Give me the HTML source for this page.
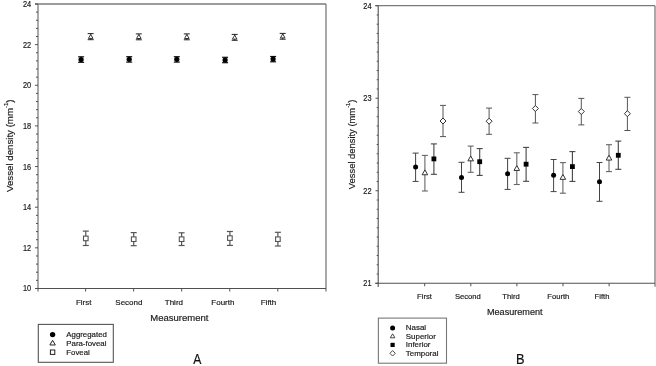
<!DOCTYPE html>
<html><head><meta charset="utf-8"><style>
html,body{margin:0;padding:0;background:#fff;}
body{width:656px;height:366px;overflow:hidden;position:relative;font-family:"Liberation Sans", sans-serif;}
svg{position:absolute;left:0;top:0;filter:grayscale(1) blur(0.3px);}
svg text{font-family:"Liberation Sans", sans-serif;}
</style></head><body>
<svg width="656" height="366" viewBox="0 0 656 366">
<rect width="656" height="366" fill="#fff"/>
<line x1="35.00" y1="4.00" x2="326.00" y2="4.00" stroke="#7a7a7a" stroke-width="1.3"/>
<line x1="326.00" y1="4.00" x2="326.00" y2="291.48" stroke="#7a7a7a" stroke-width="1.3"/>
<line x1="38.00" y1="4.00" x2="38.00" y2="291.48" stroke="#7a7a7a" stroke-width="1.3"/>
<line x1="35.00" y1="288.48" x2="326.00" y2="288.48" stroke="#505050" stroke-width="1.1"/>
<line x1="35.00" y1="4.00" x2="38.00" y2="4.00" stroke="#505050" stroke-width="1"/>
<line x1="36.00" y1="12.13" x2="38.00" y2="12.13" stroke="#505050" stroke-width="1"/>
<line x1="36.00" y1="20.26" x2="38.00" y2="20.26" stroke="#505050" stroke-width="1"/>
<line x1="36.00" y1="28.38" x2="38.00" y2="28.38" stroke="#505050" stroke-width="1"/>
<line x1="36.00" y1="36.51" x2="38.00" y2="36.51" stroke="#505050" stroke-width="1"/>
<line x1="35.00" y1="44.64" x2="38.00" y2="44.64" stroke="#505050" stroke-width="1"/>
<line x1="36.00" y1="52.77" x2="38.00" y2="52.77" stroke="#505050" stroke-width="1"/>
<line x1="36.00" y1="60.90" x2="38.00" y2="60.90" stroke="#505050" stroke-width="1"/>
<line x1="36.00" y1="69.02" x2="38.00" y2="69.02" stroke="#505050" stroke-width="1"/>
<line x1="36.00" y1="77.15" x2="38.00" y2="77.15" stroke="#505050" stroke-width="1"/>
<line x1="35.00" y1="85.28" x2="38.00" y2="85.28" stroke="#505050" stroke-width="1"/>
<line x1="36.00" y1="93.41" x2="38.00" y2="93.41" stroke="#505050" stroke-width="1"/>
<line x1="36.00" y1="101.54" x2="38.00" y2="101.54" stroke="#505050" stroke-width="1"/>
<line x1="36.00" y1="109.66" x2="38.00" y2="109.66" stroke="#505050" stroke-width="1"/>
<line x1="36.00" y1="117.79" x2="38.00" y2="117.79" stroke="#505050" stroke-width="1"/>
<line x1="35.00" y1="125.92" x2="38.00" y2="125.92" stroke="#505050" stroke-width="1"/>
<line x1="36.00" y1="134.05" x2="38.00" y2="134.05" stroke="#505050" stroke-width="1"/>
<line x1="36.00" y1="142.18" x2="38.00" y2="142.18" stroke="#505050" stroke-width="1"/>
<line x1="36.00" y1="150.30" x2="38.00" y2="150.30" stroke="#505050" stroke-width="1"/>
<line x1="36.00" y1="158.43" x2="38.00" y2="158.43" stroke="#505050" stroke-width="1"/>
<line x1="35.00" y1="166.56" x2="38.00" y2="166.56" stroke="#505050" stroke-width="1"/>
<line x1="36.00" y1="174.69" x2="38.00" y2="174.69" stroke="#505050" stroke-width="1"/>
<line x1="36.00" y1="182.82" x2="38.00" y2="182.82" stroke="#505050" stroke-width="1"/>
<line x1="36.00" y1="190.94" x2="38.00" y2="190.94" stroke="#505050" stroke-width="1"/>
<line x1="36.00" y1="199.07" x2="38.00" y2="199.07" stroke="#505050" stroke-width="1"/>
<line x1="35.00" y1="207.20" x2="38.00" y2="207.20" stroke="#505050" stroke-width="1"/>
<line x1="36.00" y1="215.33" x2="38.00" y2="215.33" stroke="#505050" stroke-width="1"/>
<line x1="36.00" y1="223.46" x2="38.00" y2="223.46" stroke="#505050" stroke-width="1"/>
<line x1="36.00" y1="231.58" x2="38.00" y2="231.58" stroke="#505050" stroke-width="1"/>
<line x1="36.00" y1="239.71" x2="38.00" y2="239.71" stroke="#505050" stroke-width="1"/>
<line x1="35.00" y1="247.84" x2="38.00" y2="247.84" stroke="#505050" stroke-width="1"/>
<line x1="36.00" y1="255.97" x2="38.00" y2="255.97" stroke="#505050" stroke-width="1"/>
<line x1="36.00" y1="264.10" x2="38.00" y2="264.10" stroke="#505050" stroke-width="1"/>
<line x1="36.00" y1="272.22" x2="38.00" y2="272.22" stroke="#505050" stroke-width="1"/>
<line x1="36.00" y1="280.35" x2="38.00" y2="280.35" stroke="#505050" stroke-width="1"/>
<line x1="35.00" y1="288.48" x2="38.00" y2="288.48" stroke="#505050" stroke-width="1"/>
<text x="31.20" y="291.48" font-size="8.4" text-anchor="end" fill="#1a1a1a" stroke="#1a1a1a" stroke-width="0.18" transform="translate(31.2,0) scale(0.88,1) translate(-31.2,0)">10</text>
<text x="31.20" y="250.84" font-size="8.4" text-anchor="end" fill="#1a1a1a" stroke="#1a1a1a" stroke-width="0.18" transform="translate(31.2,0) scale(0.88,1) translate(-31.2,0)">12</text>
<text x="31.20" y="210.20" font-size="8.4" text-anchor="end" fill="#1a1a1a" stroke="#1a1a1a" stroke-width="0.18" transform="translate(31.2,0) scale(0.88,1) translate(-31.2,0)">14</text>
<text x="31.20" y="169.56" font-size="8.4" text-anchor="end" fill="#1a1a1a" stroke="#1a1a1a" stroke-width="0.18" transform="translate(31.2,0) scale(0.88,1) translate(-31.2,0)">16</text>
<text x="31.20" y="128.92" font-size="8.4" text-anchor="end" fill="#1a1a1a" stroke="#1a1a1a" stroke-width="0.18" transform="translate(31.2,0) scale(0.88,1) translate(-31.2,0)">18</text>
<text x="31.20" y="88.28" font-size="8.4" text-anchor="end" fill="#1a1a1a" stroke="#1a1a1a" stroke-width="0.18" transform="translate(31.2,0) scale(0.88,1) translate(-31.2,0)">20</text>
<text x="31.20" y="47.64" font-size="8.4" text-anchor="end" fill="#1a1a1a" stroke="#1a1a1a" stroke-width="0.18" transform="translate(31.2,0) scale(0.88,1) translate(-31.2,0)">22</text>
<text x="31.20" y="7.00" font-size="8.4" text-anchor="end" fill="#1a1a1a" stroke="#1a1a1a" stroke-width="0.18" transform="translate(31.2,0) scale(0.88,1) translate(-31.2,0)">24</text>
<line x1="85.60" y1="288.48" x2="85.60" y2="291.48" stroke="#505050" stroke-width="1"/>
<line x1="133.65" y1="288.48" x2="133.65" y2="291.48" stroke="#505050" stroke-width="1"/>
<line x1="181.70" y1="288.48" x2="181.70" y2="291.48" stroke="#505050" stroke-width="1"/>
<line x1="229.75" y1="288.48" x2="229.75" y2="291.48" stroke="#505050" stroke-width="1"/>
<line x1="277.80" y1="288.48" x2="277.80" y2="291.48" stroke="#505050" stroke-width="1"/>
<text x="83.70" y="305.20" font-size="8.0" text-anchor="middle" fill="#1a1a1a" stroke="#1a1a1a" stroke-width="0.18" >First</text>
<text x="128.90" y="305.20" font-size="8.0" text-anchor="middle" fill="#1a1a1a" stroke="#1a1a1a" stroke-width="0.18" >Second</text>
<text x="173.90" y="305.20" font-size="8.0" text-anchor="middle" fill="#1a1a1a" stroke="#1a1a1a" stroke-width="0.18" >Third</text>
<text x="222.90" y="305.20" font-size="8.0" text-anchor="middle" fill="#1a1a1a" stroke="#1a1a1a" stroke-width="0.18" >Fourth</text>
<text x="268.50" y="305.20" font-size="8.0" text-anchor="middle" fill="#1a1a1a" stroke="#1a1a1a" stroke-width="0.18" >Fifth</text>
<text x="179.40" y="321.00" font-size="9.5" text-anchor="middle" fill="#1a1a1a" stroke="#1a1a1a" stroke-width="0.18" >Measurement</text>
<text x="0.00" y="0.00" font-size="9.7" text-anchor="middle" fill="#1a1a1a" stroke="#1a1a1a" stroke-width="0.18" transform="translate(13.1,145.7) rotate(-90)">Vessel density (mm<tspan font-size="6.0" dy="-5.6">-1</tspan><tspan dy="5.6">)</tspan></text>
<line x1="81.10" y1="56.80" x2="81.10" y2="62.30" stroke="#111" stroke-width="1.2"/>
<line x1="78.10" y1="56.80" x2="84.10" y2="56.80" stroke="#111" stroke-width="1.2"/>
<line x1="78.10" y1="62.30" x2="84.10" y2="62.30" stroke="#111" stroke-width="1.2"/>
<circle cx="81.10" cy="59.50" r="2.6" fill="#000"/>
<line x1="129.20" y1="56.70" x2="129.20" y2="62.10" stroke="#111" stroke-width="1.2"/>
<line x1="126.20" y1="56.70" x2="132.20" y2="56.70" stroke="#111" stroke-width="1.2"/>
<line x1="126.20" y1="62.10" x2="132.20" y2="62.10" stroke="#111" stroke-width="1.2"/>
<circle cx="129.20" cy="59.30" r="2.6" fill="#000"/>
<line x1="176.80" y1="56.70" x2="176.80" y2="62.10" stroke="#111" stroke-width="1.2"/>
<line x1="173.80" y1="56.70" x2="179.80" y2="56.70" stroke="#111" stroke-width="1.2"/>
<line x1="173.80" y1="62.10" x2="179.80" y2="62.10" stroke="#111" stroke-width="1.2"/>
<circle cx="176.80" cy="59.30" r="2.6" fill="#000"/>
<line x1="225.10" y1="57.30" x2="225.10" y2="62.70" stroke="#111" stroke-width="1.2"/>
<line x1="222.10" y1="57.30" x2="228.10" y2="57.30" stroke="#111" stroke-width="1.2"/>
<line x1="222.10" y1="62.70" x2="228.10" y2="62.70" stroke="#111" stroke-width="1.2"/>
<circle cx="225.10" cy="60.00" r="2.6" fill="#000"/>
<line x1="273.10" y1="56.50" x2="273.10" y2="61.80" stroke="#111" stroke-width="1.2"/>
<line x1="270.10" y1="56.50" x2="276.10" y2="56.50" stroke="#111" stroke-width="1.2"/>
<line x1="270.10" y1="61.80" x2="276.10" y2="61.80" stroke="#111" stroke-width="1.2"/>
<circle cx="273.10" cy="59.00" r="2.6" fill="#000"/>
<line x1="90.70" y1="33.60" x2="90.70" y2="39.70" stroke="#222" stroke-width="1.0"/>
<line x1="87.70" y1="33.60" x2="93.70" y2="33.60" stroke="#222" stroke-width="1.0"/>
<line x1="87.70" y1="39.70" x2="93.70" y2="39.70" stroke="#222" stroke-width="1.0"/>
<polygon points="90.70,34.42 93.00,38.42 88.40,38.42" fill="#fff" stroke="#222" stroke-width="0.9"/>
<line x1="138.80" y1="33.90" x2="138.80" y2="39.80" stroke="#222" stroke-width="1.0"/>
<line x1="135.80" y1="33.90" x2="141.80" y2="33.90" stroke="#222" stroke-width="1.0"/>
<line x1="135.80" y1="39.80" x2="141.80" y2="39.80" stroke="#222" stroke-width="1.0"/>
<polygon points="138.80,34.52 141.10,38.52 136.50,38.52" fill="#fff" stroke="#222" stroke-width="0.9"/>
<line x1="186.80" y1="33.90" x2="186.80" y2="39.80" stroke="#222" stroke-width="1.0"/>
<line x1="183.80" y1="33.90" x2="189.80" y2="33.90" stroke="#222" stroke-width="1.0"/>
<line x1="183.80" y1="39.80" x2="189.80" y2="39.80" stroke="#222" stroke-width="1.0"/>
<polygon points="186.80,34.52 189.10,38.52 184.50,38.52" fill="#fff" stroke="#222" stroke-width="0.9"/>
<line x1="234.70" y1="34.40" x2="234.70" y2="40.30" stroke="#222" stroke-width="1.0"/>
<line x1="231.70" y1="34.40" x2="237.70" y2="34.40" stroke="#222" stroke-width="1.0"/>
<line x1="231.70" y1="40.30" x2="237.70" y2="40.30" stroke="#222" stroke-width="1.0"/>
<polygon points="234.70,35.12 237.00,39.12 232.40,39.12" fill="#fff" stroke="#222" stroke-width="0.9"/>
<line x1="282.70" y1="33.40" x2="282.70" y2="39.20" stroke="#222" stroke-width="1.0"/>
<line x1="279.70" y1="33.40" x2="285.70" y2="33.40" stroke="#222" stroke-width="1.0"/>
<line x1="279.70" y1="39.20" x2="285.70" y2="39.20" stroke="#222" stroke-width="1.0"/>
<polygon points="282.70,33.92 285.00,37.92 280.40,37.92" fill="#fff" stroke="#222" stroke-width="0.9"/>
<line x1="85.80" y1="231.10" x2="85.80" y2="245.50" stroke="#555" stroke-width="1.2"/>
<line x1="82.80" y1="231.10" x2="88.80" y2="231.10" stroke="#555" stroke-width="1.2"/>
<line x1="82.80" y1="245.50" x2="88.80" y2="245.50" stroke="#555" stroke-width="1.2"/>
<rect x="83.50" y="236.10" width="4.6" height="4.6" fill="#fff" stroke="#555" stroke-width="1.1"/>
<line x1="133.70" y1="232.60" x2="133.70" y2="245.70" stroke="#555" stroke-width="1.2"/>
<line x1="130.70" y1="232.60" x2="136.70" y2="232.60" stroke="#555" stroke-width="1.2"/>
<line x1="130.70" y1="245.70" x2="136.70" y2="245.70" stroke="#555" stroke-width="1.2"/>
<rect x="131.40" y="236.90" width="4.6" height="4.6" fill="#fff" stroke="#555" stroke-width="1.1"/>
<line x1="181.60" y1="232.80" x2="181.60" y2="245.50" stroke="#555" stroke-width="1.2"/>
<line x1="178.60" y1="232.80" x2="184.60" y2="232.80" stroke="#555" stroke-width="1.2"/>
<line x1="178.60" y1="245.50" x2="184.60" y2="245.50" stroke="#555" stroke-width="1.2"/>
<rect x="179.30" y="236.90" width="4.6" height="4.6" fill="#fff" stroke="#555" stroke-width="1.1"/>
<line x1="229.90" y1="231.50" x2="229.90" y2="245.40" stroke="#555" stroke-width="1.2"/>
<line x1="226.90" y1="231.50" x2="232.90" y2="231.50" stroke="#555" stroke-width="1.2"/>
<line x1="226.90" y1="245.40" x2="232.90" y2="245.40" stroke="#555" stroke-width="1.2"/>
<rect x="227.60" y="235.80" width="4.6" height="4.6" fill="#fff" stroke="#555" stroke-width="1.1"/>
<line x1="277.90" y1="232.30" x2="277.90" y2="246.00" stroke="#555" stroke-width="1.2"/>
<line x1="274.90" y1="232.30" x2="280.90" y2="232.30" stroke="#555" stroke-width="1.2"/>
<line x1="274.90" y1="246.00" x2="280.90" y2="246.00" stroke="#555" stroke-width="1.2"/>
<rect x="275.60" y="236.90" width="4.6" height="4.6" fill="#fff" stroke="#555" stroke-width="1.1"/>
<rect x="38.3" y="324.4" width="75.0" height="37.9" fill="none" stroke="#555" stroke-width="1.1"/>
<circle cx="52.60" cy="334.60" r="2.7" fill="#000"/>
<polygon points="52.60,340.29 55.30,344.99 49.90,344.99" fill="#fff" stroke="#222" stroke-width="1.0"/>
<rect x="50.40" y="350.00" width="4.4" height="4.4" fill="#fff" stroke="#222" stroke-width="1.0"/>
<text x="66.30" y="337.10" font-size="7.85" text-anchor="start" fill="#1a1a1a" stroke="#1a1a1a" stroke-width="0.18" >Aggregated</text>
<text x="66.30" y="345.80" font-size="7.85" text-anchor="start" fill="#1a1a1a" stroke="#1a1a1a" stroke-width="0.18" >Para-foveal</text>
<text x="66.30" y="354.50" font-size="7.85" text-anchor="start" fill="#1a1a1a" stroke="#1a1a1a" stroke-width="0.18" >Foveal</text>
<text x="197.20" y="364.00" font-size="13.8" text-anchor="middle" fill="#111" stroke="#111" stroke-width="0.18" transform="translate(197.1,0) scale(0.88,1) translate(-197.1,0)">A</text>
<line x1="375.20" y1="5.70" x2="655.00" y2="5.70" stroke="#7a7a7a" stroke-width="1.3"/>
<line x1="655.00" y1="5.70" x2="655.00" y2="286.69" stroke="#7a7a7a" stroke-width="1.3"/>
<line x1="378.20" y1="5.70" x2="378.20" y2="286.89" stroke="#505050" stroke-width="1.1"/>
<line x1="375.20" y1="283.29" x2="655.00" y2="283.29" stroke="#505050" stroke-width="1.1"/>
<line x1="375.50" y1="5.70" x2="378.20" y2="5.70" stroke="#505050" stroke-width="1"/>
<line x1="376.70" y1="14.95" x2="378.20" y2="14.95" stroke="#505050" stroke-width="1"/>
<line x1="376.70" y1="24.21" x2="378.20" y2="24.21" stroke="#505050" stroke-width="1"/>
<line x1="376.70" y1="33.46" x2="378.20" y2="33.46" stroke="#505050" stroke-width="1"/>
<line x1="376.70" y1="42.71" x2="378.20" y2="42.71" stroke="#505050" stroke-width="1"/>
<line x1="376.70" y1="51.97" x2="378.20" y2="51.97" stroke="#505050" stroke-width="1"/>
<line x1="376.70" y1="61.22" x2="378.20" y2="61.22" stroke="#505050" stroke-width="1"/>
<line x1="376.70" y1="70.47" x2="378.20" y2="70.47" stroke="#505050" stroke-width="1"/>
<line x1="376.70" y1="79.72" x2="378.20" y2="79.72" stroke="#505050" stroke-width="1"/>
<line x1="376.70" y1="88.98" x2="378.20" y2="88.98" stroke="#505050" stroke-width="1"/>
<line x1="375.50" y1="98.23" x2="378.20" y2="98.23" stroke="#505050" stroke-width="1"/>
<line x1="376.70" y1="107.48" x2="378.20" y2="107.48" stroke="#505050" stroke-width="1"/>
<line x1="376.70" y1="116.74" x2="378.20" y2="116.74" stroke="#505050" stroke-width="1"/>
<line x1="376.70" y1="125.99" x2="378.20" y2="125.99" stroke="#505050" stroke-width="1"/>
<line x1="376.70" y1="135.24" x2="378.20" y2="135.24" stroke="#505050" stroke-width="1"/>
<line x1="376.70" y1="144.50" x2="378.20" y2="144.50" stroke="#505050" stroke-width="1"/>
<line x1="376.70" y1="153.75" x2="378.20" y2="153.75" stroke="#505050" stroke-width="1"/>
<line x1="376.70" y1="163.00" x2="378.20" y2="163.00" stroke="#505050" stroke-width="1"/>
<line x1="376.70" y1="172.25" x2="378.20" y2="172.25" stroke="#505050" stroke-width="1"/>
<line x1="376.70" y1="181.51" x2="378.20" y2="181.51" stroke="#505050" stroke-width="1"/>
<line x1="375.50" y1="190.76" x2="378.20" y2="190.76" stroke="#505050" stroke-width="1"/>
<line x1="376.70" y1="200.01" x2="378.20" y2="200.01" stroke="#505050" stroke-width="1"/>
<line x1="376.70" y1="209.27" x2="378.20" y2="209.27" stroke="#505050" stroke-width="1"/>
<line x1="376.70" y1="218.52" x2="378.20" y2="218.52" stroke="#505050" stroke-width="1"/>
<line x1="376.70" y1="227.77" x2="378.20" y2="227.77" stroke="#505050" stroke-width="1"/>
<line x1="376.70" y1="237.02" x2="378.20" y2="237.02" stroke="#505050" stroke-width="1"/>
<line x1="376.70" y1="246.28" x2="378.20" y2="246.28" stroke="#505050" stroke-width="1"/>
<line x1="376.70" y1="255.53" x2="378.20" y2="255.53" stroke="#505050" stroke-width="1"/>
<line x1="376.70" y1="264.78" x2="378.20" y2="264.78" stroke="#505050" stroke-width="1"/>
<line x1="376.70" y1="274.04" x2="378.20" y2="274.04" stroke="#505050" stroke-width="1"/>
<line x1="375.50" y1="283.29" x2="378.20" y2="283.29" stroke="#505050" stroke-width="1"/>
<text x="371.60" y="286.29" font-size="8.4" text-anchor="end" fill="#1a1a1a" stroke="#1a1a1a" stroke-width="0.18" transform="translate(371.6,0) scale(0.88,1) translate(-371.6,0)">21</text>
<text x="371.60" y="193.76" font-size="8.4" text-anchor="end" fill="#1a1a1a" stroke="#1a1a1a" stroke-width="0.18" transform="translate(371.6,0) scale(0.88,1) translate(-371.6,0)">22</text>
<text x="371.60" y="101.23" font-size="8.4" text-anchor="end" fill="#1a1a1a" stroke="#1a1a1a" stroke-width="0.18" transform="translate(371.6,0) scale(0.88,1) translate(-371.6,0)">23</text>
<text x="371.60" y="8.70" font-size="8.4" text-anchor="end" fill="#1a1a1a" stroke="#1a1a1a" stroke-width="0.18" transform="translate(371.6,0) scale(0.88,1) translate(-371.6,0)">24</text>
<line x1="424.70" y1="283.29" x2="424.70" y2="286.29" stroke="#505050" stroke-width="1"/>
<line x1="470.80" y1="283.29" x2="470.80" y2="286.29" stroke="#505050" stroke-width="1"/>
<line x1="516.90" y1="283.29" x2="516.90" y2="286.29" stroke="#505050" stroke-width="1"/>
<line x1="563.00" y1="283.29" x2="563.00" y2="286.29" stroke="#505050" stroke-width="1"/>
<line x1="609.10" y1="283.29" x2="609.10" y2="286.29" stroke="#505050" stroke-width="1"/>
<text x="424.50" y="299.40" font-size="7.6" text-anchor="middle" fill="#1a1a1a" stroke="#1a1a1a" stroke-width="0.18" >First</text>
<text x="467.80" y="299.40" font-size="7.6" text-anchor="middle" fill="#1a1a1a" stroke="#1a1a1a" stroke-width="0.18" >Second</text>
<text x="511.00" y="299.40" font-size="7.6" text-anchor="middle" fill="#1a1a1a" stroke="#1a1a1a" stroke-width="0.18" >Third</text>
<text x="558.30" y="299.40" font-size="7.6" text-anchor="middle" fill="#1a1a1a" stroke="#1a1a1a" stroke-width="0.18" >Fourth</text>
<text x="602.00" y="299.40" font-size="7.6" text-anchor="middle" fill="#1a1a1a" stroke="#1a1a1a" stroke-width="0.18" >Fifth</text>
<text x="514.80" y="314.80" font-size="9.1" text-anchor="middle" fill="#1a1a1a" stroke="#1a1a1a" stroke-width="0.18" >Measurement</text>
<text x="0.00" y="0.00" font-size="9.4" text-anchor="middle" fill="#1a1a1a" stroke="#1a1a1a" stroke-width="0.18" transform="translate(355.0,144.35) rotate(-90)">Vessel density (mm<tspan font-size="5.8" dy="-5.4">-1</tspan><tspan dy="5.4">)</tspan></text>
<line x1="415.60" y1="153.10" x2="415.60" y2="181.40" stroke="#444" stroke-width="1.0"/>
<line x1="412.60" y1="153.10" x2="418.60" y2="153.10" stroke="#444" stroke-width="1.0"/>
<line x1="412.60" y1="181.40" x2="418.60" y2="181.40" stroke="#444" stroke-width="1.0"/>
<circle cx="415.60" cy="167.00" r="2.5" fill="#000"/>
<line x1="461.50" y1="162.30" x2="461.50" y2="192.30" stroke="#444" stroke-width="1.0"/>
<line x1="458.50" y1="162.30" x2="464.50" y2="162.30" stroke="#444" stroke-width="1.0"/>
<line x1="458.50" y1="192.30" x2="464.50" y2="192.30" stroke="#444" stroke-width="1.0"/>
<circle cx="461.50" cy="177.60" r="2.5" fill="#000"/>
<line x1="507.60" y1="158.30" x2="507.60" y2="189.40" stroke="#444" stroke-width="1.0"/>
<line x1="504.60" y1="158.30" x2="510.60" y2="158.30" stroke="#444" stroke-width="1.0"/>
<line x1="504.60" y1="189.40" x2="510.60" y2="189.40" stroke="#444" stroke-width="1.0"/>
<circle cx="507.60" cy="173.80" r="2.5" fill="#000"/>
<line x1="553.60" y1="159.50" x2="553.60" y2="191.60" stroke="#444" stroke-width="1.0"/>
<line x1="550.60" y1="159.50" x2="556.60" y2="159.50" stroke="#444" stroke-width="1.0"/>
<line x1="550.60" y1="191.60" x2="556.60" y2="191.60" stroke="#444" stroke-width="1.0"/>
<circle cx="553.60" cy="175.30" r="2.5" fill="#000"/>
<line x1="599.50" y1="162.50" x2="599.50" y2="201.30" stroke="#444" stroke-width="1.0"/>
<line x1="596.50" y1="162.50" x2="602.50" y2="162.50" stroke="#444" stroke-width="1.0"/>
<line x1="596.50" y1="201.30" x2="602.50" y2="201.30" stroke="#444" stroke-width="1.0"/>
<circle cx="599.50" cy="181.80" r="2.5" fill="#000"/>
<line x1="424.90" y1="155.40" x2="424.90" y2="191.00" stroke="#666" stroke-width="1.1"/>
<line x1="421.90" y1="155.40" x2="427.90" y2="155.40" stroke="#666" stroke-width="1.1"/>
<line x1="421.90" y1="191.00" x2="427.90" y2="191.00" stroke="#666" stroke-width="1.1"/>
<polygon points="424.90,169.88 427.70,174.75 422.10,174.75" fill="#fff" stroke="#333" stroke-width="1.0"/>
<line x1="470.70" y1="146.10" x2="470.70" y2="172.30" stroke="#666" stroke-width="1.1"/>
<line x1="467.70" y1="146.10" x2="473.70" y2="146.10" stroke="#666" stroke-width="1.1"/>
<line x1="467.70" y1="172.30" x2="473.70" y2="172.30" stroke="#666" stroke-width="1.1"/>
<polygon points="470.70,155.98 473.50,160.85 467.90,160.85" fill="#fff" stroke="#333" stroke-width="1.0"/>
<line x1="516.80" y1="152.80" x2="516.80" y2="184.50" stroke="#666" stroke-width="1.1"/>
<line x1="513.80" y1="152.80" x2="519.80" y2="152.80" stroke="#666" stroke-width="1.1"/>
<line x1="513.80" y1="184.50" x2="519.80" y2="184.50" stroke="#666" stroke-width="1.1"/>
<polygon points="516.80,165.58 519.60,170.45 514.00,170.45" fill="#fff" stroke="#333" stroke-width="1.0"/>
<line x1="562.90" y1="162.60" x2="562.90" y2="193.20" stroke="#666" stroke-width="1.1"/>
<line x1="559.90" y1="162.60" x2="565.90" y2="162.60" stroke="#666" stroke-width="1.1"/>
<line x1="559.90" y1="193.20" x2="565.90" y2="193.20" stroke="#666" stroke-width="1.1"/>
<polygon points="562.90,174.48 565.70,179.35 560.10,179.35" fill="#fff" stroke="#333" stroke-width="1.0"/>
<line x1="609.00" y1="144.70" x2="609.00" y2="171.60" stroke="#666" stroke-width="1.1"/>
<line x1="606.00" y1="144.70" x2="612.00" y2="144.70" stroke="#666" stroke-width="1.1"/>
<line x1="606.00" y1="171.60" x2="612.00" y2="171.60" stroke="#666" stroke-width="1.1"/>
<polygon points="609.00,155.18 611.80,160.05 606.20,160.05" fill="#fff" stroke="#333" stroke-width="1.0"/>
<line x1="433.90" y1="143.90" x2="433.90" y2="174.30" stroke="#444" stroke-width="1.1"/>
<line x1="430.90" y1="143.90" x2="436.90" y2="143.90" stroke="#444" stroke-width="1.1"/>
<line x1="430.90" y1="174.30" x2="436.90" y2="174.30" stroke="#444" stroke-width="1.1"/>
<rect x="431.50" y="156.50" width="4.8" height="4.8" fill="#000" stroke="none" stroke-width="1"/>
<line x1="479.70" y1="148.60" x2="479.70" y2="175.40" stroke="#444" stroke-width="1.1"/>
<line x1="476.70" y1="148.60" x2="482.70" y2="148.60" stroke="#444" stroke-width="1.1"/>
<line x1="476.70" y1="175.40" x2="482.70" y2="175.40" stroke="#444" stroke-width="1.1"/>
<rect x="477.30" y="159.30" width="4.8" height="4.8" fill="#000" stroke="none" stroke-width="1"/>
<line x1="526.10" y1="147.40" x2="526.10" y2="181.30" stroke="#444" stroke-width="1.1"/>
<line x1="523.10" y1="147.40" x2="529.10" y2="147.40" stroke="#444" stroke-width="1.1"/>
<line x1="523.10" y1="181.30" x2="529.10" y2="181.30" stroke="#444" stroke-width="1.1"/>
<rect x="523.70" y="161.80" width="4.8" height="4.8" fill="#000" stroke="none" stroke-width="1"/>
<line x1="572.40" y1="151.60" x2="572.40" y2="181.40" stroke="#444" stroke-width="1.1"/>
<line x1="569.40" y1="151.60" x2="575.40" y2="151.60" stroke="#444" stroke-width="1.1"/>
<line x1="569.40" y1="181.40" x2="575.40" y2="181.40" stroke="#444" stroke-width="1.1"/>
<rect x="570.00" y="164.20" width="4.8" height="4.8" fill="#000" stroke="none" stroke-width="1"/>
<line x1="618.30" y1="141.10" x2="618.30" y2="169.30" stroke="#444" stroke-width="1.1"/>
<line x1="615.30" y1="141.10" x2="621.30" y2="141.10" stroke="#444" stroke-width="1.1"/>
<line x1="615.30" y1="169.30" x2="621.30" y2="169.30" stroke="#444" stroke-width="1.1"/>
<rect x="615.90" y="152.90" width="4.8" height="4.8" fill="#000" stroke="none" stroke-width="1"/>
<line x1="443.00" y1="105.40" x2="443.00" y2="136.60" stroke="#555" stroke-width="1.0"/>
<line x1="440.00" y1="105.40" x2="446.00" y2="105.40" stroke="#555" stroke-width="1.0"/>
<line x1="440.00" y1="136.60" x2="446.00" y2="136.60" stroke="#555" stroke-width="1.0"/>
<polygon points="443.00,118.00 446.00,121.00 443.00,124.00 440.00,121.00" fill="#fff" stroke="#333" stroke-width="1.0"/>
<line x1="489.10" y1="108.10" x2="489.10" y2="134.30" stroke="#555" stroke-width="1.0"/>
<line x1="486.10" y1="108.10" x2="492.10" y2="108.10" stroke="#555" stroke-width="1.0"/>
<line x1="486.10" y1="134.30" x2="492.10" y2="134.30" stroke="#555" stroke-width="1.0"/>
<polygon points="489.10,118.20 492.10,121.20 489.10,124.20 486.10,121.20" fill="#fff" stroke="#333" stroke-width="1.0"/>
<line x1="535.40" y1="94.60" x2="535.40" y2="123.00" stroke="#555" stroke-width="1.0"/>
<line x1="532.40" y1="94.60" x2="538.40" y2="94.60" stroke="#555" stroke-width="1.0"/>
<line x1="532.40" y1="123.00" x2="538.40" y2="123.00" stroke="#555" stroke-width="1.0"/>
<polygon points="535.40,105.50 538.40,108.50 535.40,111.50 532.40,108.50" fill="#fff" stroke="#333" stroke-width="1.0"/>
<line x1="581.30" y1="98.40" x2="581.30" y2="124.90" stroke="#555" stroke-width="1.0"/>
<line x1="578.30" y1="98.40" x2="584.30" y2="98.40" stroke="#555" stroke-width="1.0"/>
<line x1="578.30" y1="124.90" x2="584.30" y2="124.90" stroke="#555" stroke-width="1.0"/>
<polygon points="581.30,108.50 584.30,111.50 581.30,114.50 578.30,111.50" fill="#fff" stroke="#333" stroke-width="1.0"/>
<line x1="627.40" y1="97.30" x2="627.40" y2="130.50" stroke="#555" stroke-width="1.0"/>
<line x1="624.40" y1="97.30" x2="630.40" y2="97.30" stroke="#555" stroke-width="1.0"/>
<line x1="624.40" y1="130.50" x2="630.40" y2="130.50" stroke="#555" stroke-width="1.0"/>
<polygon points="627.40,110.70 630.40,113.70 627.40,116.70 624.40,113.70" fill="#fff" stroke="#333" stroke-width="1.0"/>
<rect x="378.4" y="318.1" width="68.1" height="45.1" fill="none" stroke="#777" stroke-width="1.1"/>
<circle cx="392.60" cy="327.90" r="2.5" fill="#000"/>
<polygon points="392.60,333.82 394.90,337.82 390.30,337.82" fill="#fff" stroke="#333" stroke-width="0.9"/>
<rect x="390.50" y="342.80" width="4.2" height="4.2" fill="#000" stroke="none" stroke-width="1"/>
<polygon points="392.60,350.60 395.30,353.30 392.60,356.00 389.90,353.30" fill="#fff" stroke="#333" stroke-width="0.9"/>
<text x="405.80" y="330.40" font-size="7.95" text-anchor="start" fill="#1a1a1a" stroke="#1a1a1a" stroke-width="0.18" >Nasal</text>
<text x="405.80" y="338.90" font-size="7.95" text-anchor="start" fill="#1a1a1a" stroke="#1a1a1a" stroke-width="0.18" >Superior</text>
<text x="405.80" y="347.30" font-size="7.95" text-anchor="start" fill="#1a1a1a" stroke="#1a1a1a" stroke-width="0.18" >Inferior</text>
<text x="405.80" y="355.80" font-size="7.95" text-anchor="start" fill="#1a1a1a" stroke="#1a1a1a" stroke-width="0.18" >Temporal</text>
<text x="520.30" y="363.60" font-size="13.9" text-anchor="middle" fill="#111" stroke="#111" stroke-width="0.18" transform="translate(520.3,0) scale(0.92,1) translate(-520.3,0)">B</text>
</svg>
</body></html>
